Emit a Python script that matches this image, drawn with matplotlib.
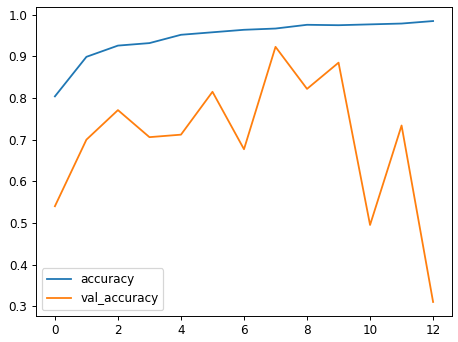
import matplotlib
matplotlib.use("Agg")
import matplotlib.pyplot as plt

epochs = list(range(13))
accuracy = [0.804, 0.899, 0.926, 0.932, 0.952, 0.958, 0.964, 0.967, 0.976, 0.975, 0.977, 0.979, 0.985]
val_accuracy = [0.540, 0.700, 0.771, 0.706, 0.712, 0.815, 0.677, 0.923, 0.822, 0.885, 0.495, 0.734, 0.310]

W, H = 458, 342
DPI = 86.4
fig = plt.figure(figsize=(W / DPI, H / DPI), dpi=DPI)
ax = fig.add_axes([36 / W, (H - 316) / H, (452 - 36) / W, (316 - 7) / H])
ax.plot(epochs, accuracy, label="accuracy")
ax.plot(epochs, val_accuracy, label="val_accuracy")
ax.set_yticks([0.3, 0.4, 0.5, 0.6, 0.7, 0.8, 0.9, 1.0])
ax.set_xticks([0, 2, 4, 6, 8, 10, 12])
ax.legend(loc="lower left")
fig.savefig("out.png", dpi=DPI)
